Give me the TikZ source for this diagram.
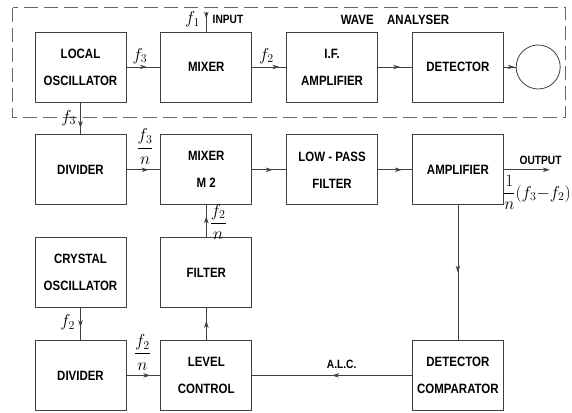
\documentclass[tikz,border=0pt]{standalone}
\usepackage{amsmath}
\usepackage{fontspec}
\setmainfont{Liberation Sans}[FakeStretch=0.85]
\usetikzlibrary{arrows.meta, positioning, calc, decorations.markings}

\begin{document}
\begin{tikzpicture}[
    x=1pt, y=1pt,
    node distance=32pt and 34pt,
    every node/.style={font=\bfseries\fontsize{13.5}{27}\selectfont},
    box/.style={draw=black!75, line width=0.8pt, rectangle, minimum width=91pt, minimum height=70pt, align=center, inner sep=1pt},
    link/.style={draw=black!75, line width=0.8pt},
    midarrow/.style={postaction={decorate}, decoration={markings, mark=at position #1 with {\arrow[black!75]{Stealth[length=7pt, width=4.5pt]}}}},
    midarrow/.default=0.7,
    lbl/.style={font=\fontsize{17}{17}\selectfont, inner sep=1pt},
    tag/.style={font=\bfseries\fontsize{12}{12}\selectfont, inner sep=1pt}
]
\useasboundingbox (0,0) rectangle (572,-412);

% wave analyser
\node (lo) [box] at (80.5,-67) {LOCAL\\OSCILLATOR};
\node (mixer) [box, right=of lo] {MIXER};
\node (ifamp) [box, right=of mixer] {I.F.\\AMPLIFIER};
\node (detector) [box, right=of ifamp] {DETECTOR};
\node (meter) [draw=black!75, line width=0.8pt, circle, minimum size=44pt, right=12pt of detector] {};
\draw [link, draw=black!60, dash pattern=on 14pt off 6pt] ($(lo.north west)+(-22,24)$) rectangle ($(meter.east |- lo.south)+(5,-15)$);
\node (analyser) at ($(ifamp.north east)!0.5!(detector.north west)+(0,12)$) {WAVE\quad ANALYSER};

% converter
\node (div1) [box, below=of lo] {DIVIDER};
\node (mixer2) [box, below=of mixer] {MIXER\\M 2};
\node (lowpass) [box, below=of ifamp] {LOW - PASS\\FILTER};
\node (amp) [box, below=of detector] {AMPLIFIER};
\node (crystal) [box, below=of div1] {CRYSTAL\\OSCILLATOR};
\node (filter) [box, below=of mixer2] {FILTER};
\node (div2) [box, below=of crystal] {DIVIDER};
\node (level) [box, below=of filter] {LEVEL\\CONTROL};
\node (comparator) [box] at (amp |- level) {DETECTOR\\COMPARATOR};

\coordinate (input) at ($(mixer.north)+(0,20)$);
\coordinate [right=46pt of amp.east] (output);

\draw [link, midarrow=0.35] (input) -- node[lbl, left=5pt, pos=0.4] {$f_1$} node[tag, right=5pt, pos=0.4] {INPUT} (mixer.north);
\draw [link, midarrow=0.6] (lo) -- node[lbl, above=2pt, pos=0.4] {$f_3$} (mixer);
\draw [link, midarrow=0.8] (mixer) -- node[lbl, above=2pt, pos=0.42] {$f_2$} (ifamp);
\draw [link, midarrow=0.65] (ifamp) -- (detector);
\draw [link, midarrow=0.9] (detector) -- (meter);
\draw [link, midarrow=0.8] (lo) -- node[lbl, left=3pt, pos=0.48] {$f_3$} (div1);
\draw [link, midarrow=0.65] (div1) -- node[lbl, above=4pt, pos=0.55] {$\dfrac{f_3}{n}$} (mixer2);
\draw [link, midarrow=0.6] (mixer2) -- (lowpass);
\draw [link, midarrow=0.7] (lowpass) -- (amp);
\draw [link, -{Stealth[length=7pt, width=4.5pt]}] (amp) -- node[tag, above=4pt, pos=0.8] {OUTPUT} node[lbl, below=4pt, pos=0.72] {$\dfrac{1}{n}(f_3{-}f_2)$} (output);
\draw [link, midarrow=0.5] (amp) -- (comparator);
\draw [link, midarrow=0.5] (comparator) -- node[tag, above=5pt, pos=0.44] {A.L.C.} (level);
\draw [link, midarrow=0.6] (level) -- (filter);
\draw [link, midarrow=0.65] (filter) -- node[lbl, right=2pt, pos=0.47] {$\dfrac{f_2}{n}$} (mixer2);
\draw [link, midarrow=0.6] (crystal) -- node[lbl, left=4pt, pos=0.45] {$f_2$} (div2);
\draw [link, midarrow=0.7] (div2) -- node[lbl, above=4pt, pos=0.47] {$\dfrac{f_2}{n}$} (level);

\end{tikzpicture}
\end{document}
